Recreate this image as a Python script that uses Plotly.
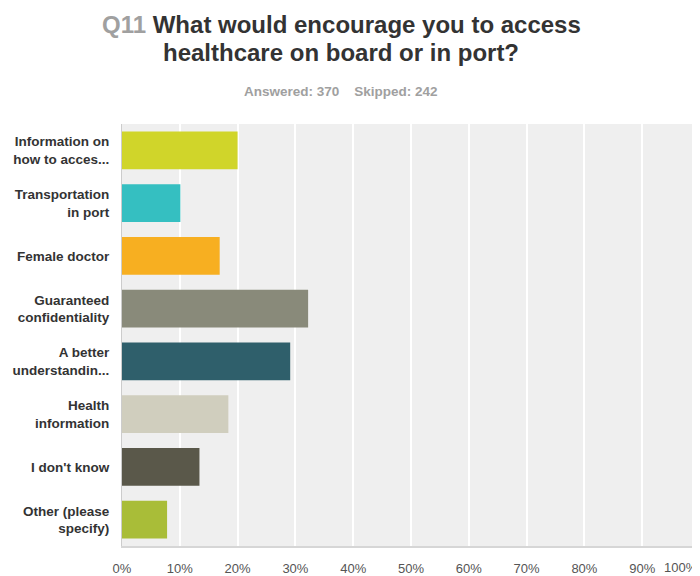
import plotly.graph_objects as go

categories = [
    "Information on<br>how to acces...",
    "Transportation<br>in port",
    "Female doctor",
    "Guaranteed<br>confidentiality",
    "A better<br>understandin...",
    "Health<br>information",
    "I don't know",
    "Other (please<br>specify)",
]
values = [20.0, 10.1, 16.9, 32.2, 29.1, 18.4, 13.4, 7.8]
colors = ["#D0D52A", "#35BFC1", "#F7AF21", "#898A7A", "#2F5F6B", "#D0CEBE", "#5A584A", "#A9BD38"]
xticks = [0, 10, 20, 30, 40, 50, 60, 70, 80, 90]
xticklabels = ["0%", "10%", "20%", "30%", "40%", "50%", "60%", "70%", "80%", "90%"]

OFF = 8  # page body margin
W, H = 700 - OFF, 576 - OFF
L, T, R = 121.5 - OFF, 123.5 - OFF, 0
B = H - (546.5 - OFF)
ph = H - T - B
pw = W - L - R

def py(pix):
    return (H - B - (pix - OFF)) / ph

def px(pix):
    return ((pix - OFF) - L) / pw

fig = go.Figure(go.Bar(
    x=values,
    y=["<b>" + c.replace("<br>", "</b><br><b>") + "</b>" for c in categories],
    orientation="h",
    marker=dict(color=colors, line=dict(width=0)),
    hoverinfo="x+y",
))

fig.update_layout(
    width=W, height=H,
    margin=dict(l=L, r=R, t=T, b=B, autoexpand=False),
    paper_bgcolor="white",
    plot_bgcolor="#EFEFEF",
    bargap=0.28,
    showlegend=False,
    font=dict(family="Liberation Sans, Arial, sans-serif", color="#333333"),
    xaxis=dict(
        range=[0, 100], tickvals=xticks, ticktext=xticklabels,
        showgrid=True, gridcolor="white", gridwidth=2,
        zeroline=False, showline=True, linecolor="#D6D6D6", linewidth=2,
        ticks="outside", ticklen=9, tickcolor="rgba(0,0,0,0)",
        tickfont=dict(size=13, color="#555555"), automargin=False, fixedrange=True,
    ),
    yaxis=dict(
        autorange="reversed", showgrid=False, zeroline=False,
        showline=True, linecolor="#CCCCCC", linewidth=1,
        ticks="outside", ticklen=9, tickcolor="rgba(0,0,0,0)",
        tickfont=dict(size=13.5, color="#333333"), automargin=False, fixedrange=True,
    ),
    annotations=[
        dict(xref="paper", yref="paper", x=px(341), y=py(24),
             xanchor="center", yanchor="middle", showarrow=False,
             text="<b><span style='color:#A0A0A0'>Q11</span> What would encourage you to access</b>",
             font=dict(size=24, color="#333333")),
        dict(xref="paper", yref="paper", x=px(341), y=py(52),
             xanchor="center", yanchor="middle", showarrow=False,
             text="<b>healthcare on board or in port?</b>",
             font=dict(size=24, color="#333333")),
        dict(xref="paper", yref="paper", x=px(341), y=py(91),
             xanchor="center", yanchor="middle", showarrow=False,
             text="<b>Answered: 370&nbsp;&nbsp;&nbsp;&nbsp;Skipped: 242</b>",
             font=dict(size=13.5, color="#A0A0A0")),
        dict(xref="x", yref="paper", x=100, y=py(568),
             xanchor="right", yanchor="middle", showarrow=False,
             text="100%", font=dict(size=13, color="#555555")),
    ],
)

fig.write_html("out.html")
